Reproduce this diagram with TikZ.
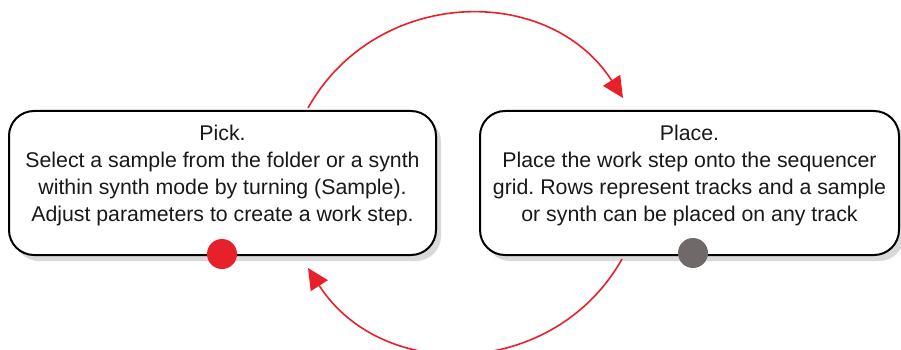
\documentclass[tikz,border=0pt]{standalone}
\usepackage{fontspec}
\setmainfont{Liberation Sans}
\frenchspacing
\usetikzlibrary{arrows.meta,shadows,calc}
\definecolor{cyred}{HTML}{E8202A}
\definecolor{dotgrey}{HTML}{6F6A69}
\tikzset{
  stagebox/.style={draw=black, line width=2pt, rounded corners=25pt, fill=white,
    drop shadow={shadow xshift=5pt, shadow yshift=-6pt, fill=black!15, opacity=1},
    inner sep=0pt},
  stagetext/.style={align=center, font=\fontsize{21.3}{27}\selectfont, inner sep=0pt, text=black!90},
  dot/.style={circle, minimum size=30pt, inner sep=0pt, draw=none},
  cycle/.style={draw=cyred, line width=1.6pt, -{Triangle[length=21pt,width=20pt]}, bend left=59, looseness=1.12}
}
\begin{document}
\begin{tikzpicture}[x=1pt,y=1pt]
\useasboundingbox (0,-350) rectangle (901,0);
\node[stagebox, minimum width=427pt, minimum height=144pt] (pick) at (222.5,-183) {};
\node[stagebox, minimum width=419pt, minimum height=144pt] (place) at (689.5,-183) {};
\node[stagetext] (pickt) at (222.5,-175) {Pick.\\Select a sample from the folder or a synth\\within synth mode by turning (Sample).\\Adjust parameters to create a work step.};
\node[stagetext] (placet) at (689.5,-175) {Place.\\Place the work step onto the sequencer\\grid. Rows represent tracks and a sample\\or synth can be placed on any track};
\node[dot, fill=cyred] (pickdot) at (222,-254) {};
\node[dot, fill=dotgrey] (placedot) at (693,-253) {};
\coordinate (a1) at ($(pick.north)+(85.5,2)$);
\coordinate (a2) at ($(place.north)+(-66.5,12)$);
\coordinate (b1) at ($(place.south)+(-67.5,-3)$);
\coordinate (b2) at ($(pick.south)+(85.5,-12)$);
\draw[cycle] (a1) to (a2);
\draw[cycle] (b1) to (b2);
\end{tikzpicture}
\end{document}
